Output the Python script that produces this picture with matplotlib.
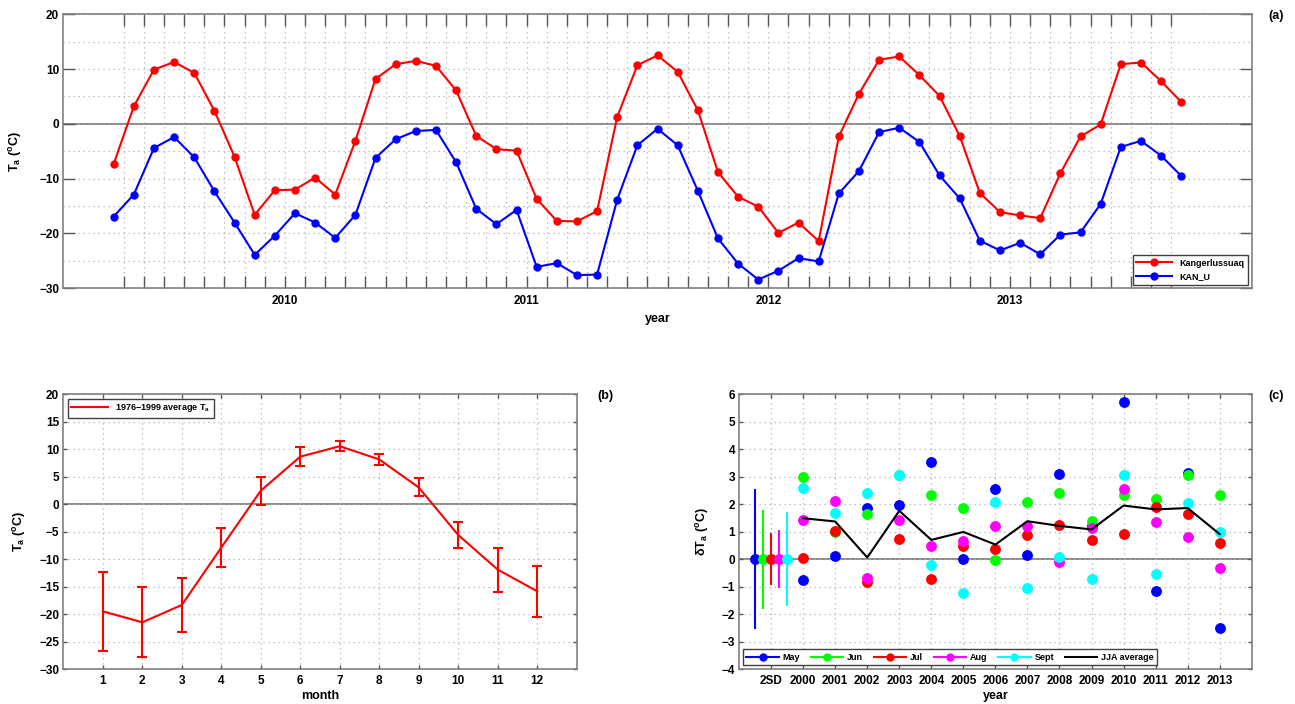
import numpy as np
import pandas as pd
import matplotlib
matplotlib.use('Agg')
import matplotlib.pyplot as plt
from matplotlib.lines import Line2D

plt.rcParams['font.family'] = ['Liberation Sans', 'DejaVu Sans']
plt.rcParams['font.weight'] = 'bold'
plt.rcParams['axes.labelweight'] = 'bold'
plt.rcParams['mathtext.fontset'] = 'custom'
plt.rcParams['mathtext.rm'] = 'Liberation Sans:bold'
plt.rcParams['mathtext.it'] = 'Liberation Sans:bold'
plt.rcParams['mathtext.bf'] = 'Liberation Sans:bold'
plt.rcParams['mathtext.default'] = 'regular'

# (a) monthly mean air temperature, Apr 2009 - Sep 2013
start_month = '2009-04'
kanger = [-7.3, 3.2, 9.9, 11.3, 9.3, 2.4, -6.0, -16.6, -12.1, -12.0, -9.8, -12.9,
          -3.1, 8.2, 10.9, 11.5, 10.6, 6.1, -2.2, -4.6, -4.9, -13.7, -17.7, -17.8,
          -15.9, 1.3, 10.7, 12.5, 9.5, 2.5, -8.8, -13.3, -15.1, -19.9, -18.0, -21.4,
          -2.3, 5.5, 11.7, 12.3, 8.9, 5.1, -2.2, -12.6, -16.1, -16.7, -17.2, -9.0,
          -2.3, -0.1, 10.9, 11.2, 7.8, 4.0]
kan_u = [-16.9, -12.9, -4.4, -2.4, -6.1, -12.3, -18.0, -23.9, -20.4, -16.3, -18.0, -20.8,
         -16.6, -6.2, -2.8, -1.3, -1.1, -7.0, -15.5, -18.3, -15.7, -26.1, -25.4, -27.6,
         -27.5, -13.8, -3.9, -0.9, -3.9, -12.2, -20.9, -25.5, -28.4, -26.8, -24.5, -25.1,
         -12.7, -8.6, -1.5, -0.7, -3.3, -9.4, -13.6, -21.3, -23.1, -21.7, -23.8, -20.2,
         -19.8, -14.6, -4.2, -3.1, -5.8, -9.5]

# (b) 1976-1999 monthly climatology
months_b = list(range(1, 13))
clim_mean = [-19.5, -21.5, -18.35, -7.9, 2.45, 8.65, 10.55, 8.15, 3.05, -5.6, -11.9, -15.85]
clim_sd = [7.2, 6.4, 4.95, 3.5, 2.55, 1.75, 0.95, 1.05, 1.65, 2.3, 4.0, 4.65]

# (c) anomalies relative to 1976-1999
years_c = list(range(2000, 2014))
anom_may = [-0.76, 0.10, 1.85, 1.98, 3.53, 0.0, 2.55, 0.15, 3.11, 1.20, 5.72, -1.15, 3.13, -2.52]
anom_jun = [2.98, 0.98, 1.65, 3.05, 2.35, 1.86, -0.03, 2.07, 2.40, 1.37, 2.34, 2.18, 3.07, 2.33]
anom_jul = [0.04, 1.03, -0.83, 0.75, -0.71, 0.47, 0.38, 0.87, 1.23, 0.68, 0.93, 1.88, 1.66, 0.59]
anom_aug = [1.44, 2.10, -0.68, 1.44, 0.47, 0.65, 1.22, 1.21, -0.09, 1.12, 2.55, 1.34, 0.82, -0.31]
anom_sep = [2.58, 1.69, 2.40, 3.07, -0.20, -1.25, 2.07, -1.06, 0.08, -0.74, 3.07, -0.54, 2.06, 1.00]
jja_avg = [1.49, 1.37, 0.06, 1.76, 0.70, 0.99, 0.53, 1.38, 1.21, 1.08, 1.95, 1.81, 1.86, 0.91]
two_sd = [2.56, 1.8, 0.95, 1.05, 1.7]
month_names = ['May', 'Jun', 'Jul', 'Aug', 'Sept']
month_cols = ['#0000ff', '#00ff00', '#ff0000', '#ff00ff', '#00ffff']

grey = '#808080'
gridc = '#b0b0b0'


def style(ax, ticklen):
    for s in ax.spines.values():
        s.set_color(grey)
        s.set_linewidth(1.2)
    ax.tick_params(which='major', direction='in', length=ticklen, width=1.0,
                   color='#555555', top=True, right=True, labelsize=8.5, pad=3)
    ax.tick_params(which='minor', length=0)
    ax.grid(True, which='both', linestyle=(0, (1, 3)), color=gridc, linewidth=0.9)
    ax.axhline(0, color=grey, lw=1.3, zorder=1.5)
    for lab in ax.get_xticklabels() + ax.get_yticklabels():
        lab.set_fontweight('bold')


fig = plt.figure(figsize=(12.95, 7.04), dpi=100)

# ---------------- (a)
ax1 = fig.add_axes([0.0489, 0.5905, 0.9177, 0.3892])
per = pd.period_range(start_month, periods=len(kanger), freq='M')
t = per.year + (per.month - 0.5) / 12.0
ax1.plot(t, kanger, '-o', color='#ff0000', lw=1.5, ms=5, label='Kangerlussuaq', zorder=3)
ax1.plot(t, kan_u, '-o', color='#0000ff', lw=1.5, ms=5, label='KAN_U', zorder=3)
ticks = pd.period_range('2009-05', '2013-09', freq='M')
ax1.set_xticks(ticks.year + (ticks.month - 1) / 12.0)
ax1.set_xticklabels([str(p.year) if p.month == 1 else '' for p in ticks])
ax1.set_xlim(2009 + 1 / 12, 2014)
ax1.set_ylim(-30, 20)
ax1.set_yticks(np.arange(-30, 21, 10))
ax1.set_yticks(np.arange(-25, 20, 10), minor=True)
style(ax1, 8.6)
ax1.tick_params(axis='x', pad=5)
ax1.set_ylabel('T$_{a}$ ($^{o}$C)', fontsize=9)
ax1.yaxis.set_label_coords(-0.033, 0.5)
ax1.set_xlabel('year', fontsize=9)
ax1.xaxis.set_label_coords(0.5, -0.09)
ax1.legend(loc='lower right', handlelength=4, borderaxespad=0.4,
           fancybox=False, edgecolor='#404040', framealpha=1,
           prop={'weight': 'bold', 'size': 6.5})
fig.text(0.9853, 0.977, '(a)', fontsize=9, fontweight='bold', ha='center', va='center')

# ---------------- (b)
ax2 = fig.add_axes([0.0489, 0.0497, 0.3964, 0.3902])
ax2.errorbar(months_b, clim_mean, yerr=clim_sd, color='#ff0000', lw=1.5,
             elinewidth=1.5, capsize=3.5, capthick=1.5,
             label='1976\u22121999 average T$_{a}$', zorder=3)
ax2.set_xlim(0, 13)
ax2.set_xticks(months_b)
ax2.set_ylim(-30, 20)
ax2.set_yticks(np.arange(-30, 21, 5))
style(ax2, 3)
ax2.tick_params(axis='x', pad=4)
ax2.set_ylabel('T$_{a}$ ($^{o}$C)', fontsize=9)
ax2.yaxis.set_label_coords(-0.069, 0.5)
ax2.set_xlabel('month', fontsize=9)
ax2.xaxis.set_label_coords(0.5, -0.077)
h, l = ax2.get_legend_handles_labels()
ax2.legend([Line2D([], [], color='#ff0000', lw=1.5)], l, loc='upper left',
           handlelength=4, borderaxespad=0.5, fancybox=False, edgecolor='#404040',
           framealpha=1, prop={'weight': 'bold', 'size': 6.5})
fig.text(0.4672, 0.4375, '(b)', fontsize=9, fontweight='bold', ha='center', va='center')

# ---------------- (c)
ax3 = fig.add_axes([0.5707, 0.0497, 0.3959, 0.3902])
series = [anom_may, anom_jun, anom_jul, anom_aug, anom_sep]
offs = [-0.5, -0.25, 0.0, 0.25, 0.5]
for i in range(5):
    ax3.errorbar(1999 + offs[i], 0, yerr=two_sd[i], fmt='o', color=month_cols[i],
                 ms=6.8, elinewidth=1.5, capsize=0, zorder=3)
    ax3.plot(years_c, series[i], 'o', color=month_cols[i], ms=6.8, zorder=3)
ax3.plot(years_c, jja_avg, '-', color='#000000', lw=1.5, zorder=4)
ax3.set_xlim(1998, 2014)
ax3.set_xticks([1999] + years_c)
ax3.set_xticklabels(['2SD'] + [str(y) for y in years_c])
ax3.set_ylim(-4, 6)
ax3.set_yticks(np.arange(-4, 7, 1))
style(ax3, 3)
ax3.tick_params(axis='x', pad=4)
ax3.set_ylabel('\u03b4T$_{a}$ ($^{o}$C)', fontsize=9)
ax3.yaxis.set_label_coords(-0.055, 0.5)
ax3.set_xlabel('year', fontsize=9)
ax3.xaxis.set_label_coords(0.5, -0.077)
handles = [Line2D([], [], color=c, marker='o', ms=5, lw=1.5) for c in month_cols]
handles.append(Line2D([], [], color='#000000', lw=1.5))
ax3.legend(handles, month_names + ['JJA average'], loc='lower left',
           bbox_to_anchor=(0.0, 0.0), ncol=6, handlelength=3.6, columnspacing=1.15,
           handletextpad=0.45, borderaxespad=0.4, fancybox=False, edgecolor='#404040',
           framealpha=1, prop={'weight': 'bold', 'size': 6.5})
fig.text(0.9853, 0.4375, '(c)', fontsize=9, fontweight='bold', ha='center', va='center')

fig.savefig('out.png', dpi=100)
